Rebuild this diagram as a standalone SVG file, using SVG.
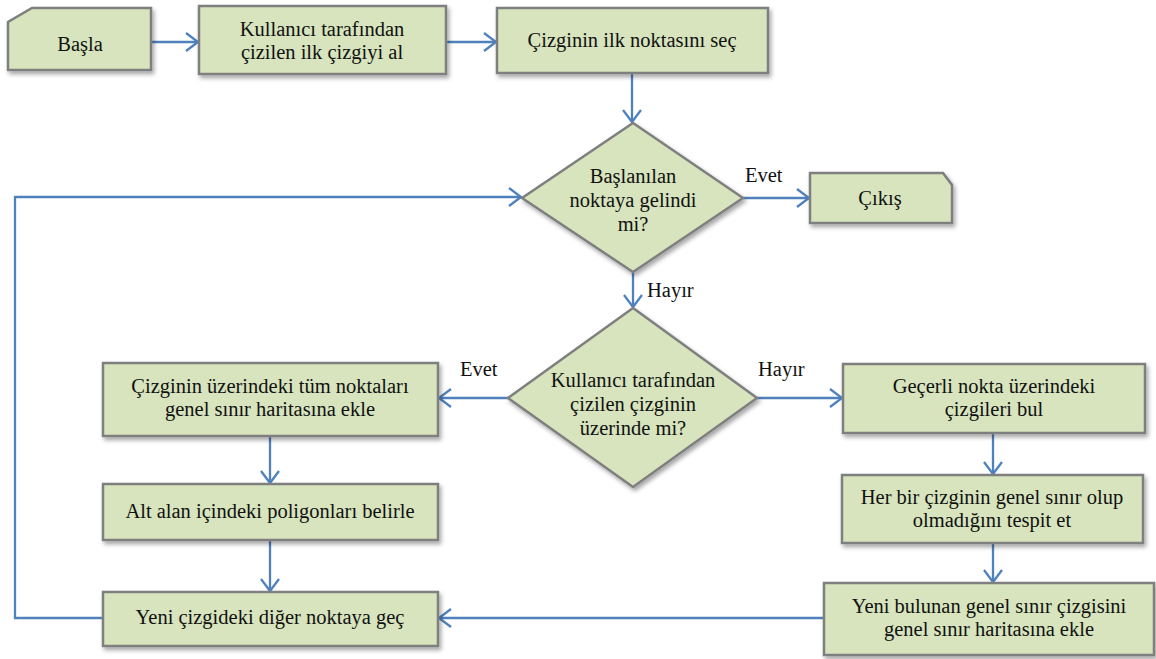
<svg xmlns="http://www.w3.org/2000/svg" width="1156" height="659" viewBox="0 0 1156 659">
<defs>
<style>
.n{fill:#d7e4bd;stroke:#7f7f7f;stroke-width:2.5;filter:url(#sh)}
text{font-family:'Liberation Serif','DejaVu Serif',serif;font-size:20.5px;fill:#111}
.t{text-anchor:middle}
.c{fill:none;stroke:#4f81bd;stroke-width:2.3;marker-end:url(#ah)}
</style>
<filter id="sh" x="-10%" y="-10%" width="130%" height="140%">
<feDropShadow dx="2" dy="3" stdDeviation="2" flood-color="#000" flood-opacity="0.35"/>
</filter>
<marker id="ah" markerUnits="userSpaceOnUse" markerWidth="16" markerHeight="22" refX="13" refY="10" orient="auto">
<path d="M1,1 L13,10 L1,19" fill="none" stroke="#4f81bd" stroke-width="2.3"/>
</marker>
</defs>
<rect width="1156" height="659" fill="#fff"/>
<g id="connectors">
<path class="c" d="M151,42 H198"/>
<path class="c" d="M446,42 H496"/>
<path class="c" d="M632,74 V122"/>
<path class="c" d="M743,198 H809"/>
<path class="c" d="M633,272 V307"/>
<path class="c" d="M508,398 H439"/>
<path class="c" d="M757,398 H842"/>
<path class="c" d="M270,437 V483"/>
<path class="c" d="M270,541 V591"/>
<path class="c" d="M993,434 V474"/>
<path class="c" d="M993,544 V582"/>
<path class="c" d="M824,618 H439"/>
<path class="c" d="M103,618 H15 V197 H521"/>
<text x="745" y="182">Evet</text>
<text x="647" y="297">Hayır</text>
<text x="460" y="376">Evet</text>
<text x="758" y="376">Hayır</text>
</g>
<g id="basla">
<path class="n" d="M32,8 H151 V70 H8 V22 Z"/>
<text class="t" x="80" y="51">Başla</text>
</g>
<g id="al">
<rect class="n" x="199" y="6" width="247" height="68"/>
<text class="t" x="322" y="36">Kullanıcı tarafından</text>
<text class="t" x="322" y="59">çizilen ilk çizgiyi al</text>
</g>
<g id="sec">
<rect class="n" x="497" y="8" width="271" height="65"/>
<text class="t" x="632" y="47">Çizginin ilk noktasını seç</text>
</g>
<g id="karar1">
<path class="n" d="M633,123 L743,198 L633,272 L522,198 Z"/>
<text class="t" x="633" y="183">Başlanılan</text>
<text class="t" x="633" y="207">noktaya gelindi</text>
<text class="t" x="633" y="231">mi?</text>
</g>
<g id="cikis">
<path class="n" d="M810,173 H943 L952,185 V223 H810 Z"/>
<text class="t" x="880" y="205">Çıkış</text>
</g>
<g id="karar2">
<path class="n" d="M633,308 L757,398 L633,487 L508,398 Z"/>
<text class="t" x="633" y="387">Kullanıcı tarafından</text>
<text class="t" x="633" y="411">çizilen çizginin</text>
<text class="t" x="633" y="435">üzerinde mi?</text>
</g>
<g id="ekle1">
<rect class="n" x="103" y="363" width="335" height="73"/>
<text class="t" x="270" y="393">Çizginin üzerindeki tüm noktaları</text>
<text class="t" x="270" y="416">genel sınır haritasına ekle</text>
</g>
<g id="belirle">
<rect class="n" x="103" y="484" width="335" height="56"/>
<text class="t" x="270" y="518">Alt alan içindeki poligonları belirle</text>
</g>
<g id="gec">
<rect class="n" x="103" y="592" width="335" height="54"/>
<text class="t" x="270" y="624">Yeni çizgideki diğer noktaya geç</text>
</g>
<g id="bul">
<rect class="n" x="843" y="364" width="302" height="69"/>
<text class="t" x="994" y="393">Geçerli nokta üzerindeki</text>
<text class="t" x="994" y="416">çizgileri bul</text>
</g>
<g id="tespit">
<rect class="n" x="842" y="475" width="301" height="68"/>
<text class="t" x="992" y="504">Her bir çizginin genel sınır olup</text>
<text class="t" x="992" y="527">olmadığını tespit et</text>
</g>
<g id="ekle2">
<rect class="n" x="824" y="583" width="330" height="72"/>
<text class="t" x="989" y="613">Yeni bulunan genel sınır çizgisini</text>
<text class="t" x="989" y="636">genel sınır haritasına ekle</text>
</g>
</svg>
